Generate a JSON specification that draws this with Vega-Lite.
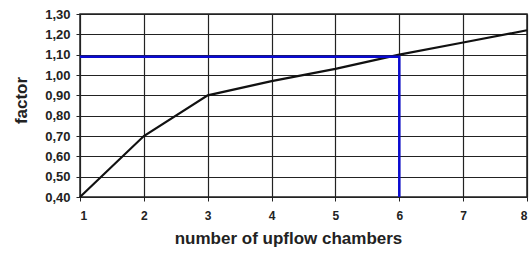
{
  "$schema": "https://vega.github.io/schema/vega-lite/v6.json",
  "width": 447,
  "height": 183,
  "autosize": {"type": "none"},
  "padding": {"left": 80, "top": 14, "right": 2, "bottom": 57},
  "background": "white",
  "config": {
    "view": {"stroke": "#222", "strokeWidth": 1.5},
    "font": "Liberation Sans"
  },
  "datasets": {
    "curve": [
      {"n": 1, "f": 0.40},
      {"n": 2, "f": 0.70},
      {"n": 3, "f": 0.90},
      {"n": 4, "f": 0.97},
      {"n": 5, "f": 1.03},
      {"n": 6, "f": 1.10},
      {"n": 7, "f": 1.16},
      {"n": 8, "f": 1.22}
    ],
    "guide": [
      {"n": 1, "f": 1.09, "o": 1},
      {"n": 6, "f": 1.09, "o": 2},
      {"n": 6, "f": 0.40, "o": 3}
    ]
  },
  "layer": [
    {
      "data": {"name": "curve"},
      "mark": {"type": "line", "color": "#111", "strokeWidth": 2.2},
      "encoding": {
        "x": {
          "field": "n", "type": "quantitative",
          "scale": {"domain": [1, 8], "nice": false},
          "axis": {
            "title": "number of upflow chambers",
            "values": [1, 2, 3, 4, 5, 6, 7, 8],
            "tickCount": 8,
            "format": "d",
            "labelOverlap": false,
            "grid": true, "gridColor": "#222", "gridWidth": 1.2, "gridOpacity": 1,
            "domain": false, "ticks": true, "tickColor": "#222", "tickSize": 4,
            "labelFont": "Liberation Sans", "labelFontWeight": "bold", "labelFontSize": 12, "labelColor": "#222",
            "labelPadding": 9,
            "titleFont": "Liberation Sans", "titleFontSize": 17, "titleFontWeight": "bold", "titleColor": "#222",
            "titlePadding": 9,
            "titleX": 208
          }
        },
        "y": {
          "field": "f", "type": "quantitative",
          "scale": {"domain": [0.4, 1.3], "nice": false, "zero": false},
          "axis": {
            "title": "factor",
            "values": [0.4, 0.5, 0.6, 0.7, 0.8, 0.9, 1.0, 1.1, 1.2, 1.3],
            "tickCount": 10,
            "labelExpr": "replace(format(datum.value, '.2f'), '.', ',')",
            "labelOverlap": false,
            "grid": true, "gridColor": "#222", "gridWidth": 1.2, "gridOpacity": 1,
            "domain": false, "ticks": true, "tickColor": "#222", "tickSize": 4,
            "labelFont": "Liberation Sans", "labelFontWeight": "bold", "labelFontSize": 13, "labelColor": "#222",
            "labelPadding": 6,
            "titleFont": "Liberation Sans", "titleFontSize": 17, "titleFontWeight": "bold", "titleColor": "#222",
            "titlePadding": 14,
            "titleY": 86
          }
        }
      }
    },
    {
      "data": {"name": "guide"},
      "mark": {"type": "line", "color": "#0a0ad0", "strokeWidth": 2.5},
      "encoding": {
        "x": {"field": "n", "type": "quantitative"},
        "y": {"field": "f", "type": "quantitative"},
        "order": {"field": "o"}
      }
    }
  ]
}
